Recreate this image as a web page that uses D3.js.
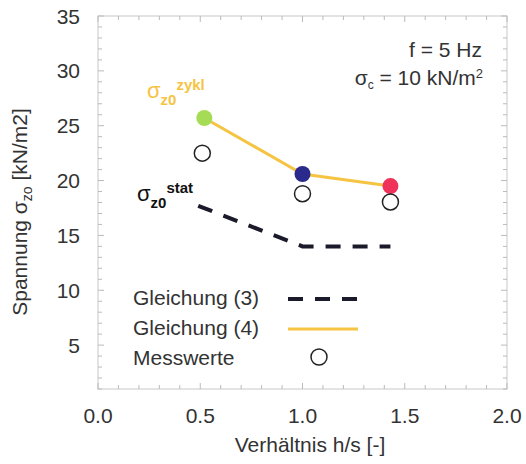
<!DOCTYPE html>
<html lang="de">
<head>
    <meta charset="UTF-8">
    <title>Spannung</title>
    <script src="https://d3js.org/d3.v7.min.js"></script>
    <style>
        body { margin: 0; background: #fff; }
        text { font-family: "Liberation Sans", Arial, sans-serif; fill: #333; }
    </style>
</head>
<body>
<svg width="526" height="464"></svg>
<script>
    // data
    const zyklX = [0.52, 1.0, 1.43];
    const zyklY = [25.7, 20.6, 19.5];
    const zyklColors = ["#a6dc55", "#2a2a8c", "#f0325a"];
    const statX = [0.49, 1.0, 1.43];
    const statY = [17.7, 14.0, 14.0];
    const messX = [0.51, 1.0, 1.43];
    const messY = [22.5, 18.8, 18.05];
    const xTicks = [0.0, 0.5, 1.0, 1.5, 2.0];
    const yTicks = [5, 10, 15, 20, 25, 30, 35];

    const yellow = "#f6c443";
    const svg = d3.select("svg");
    const mLeft = 98, mRight = 507, mTop = 16, mBottom = 389;

    const x = d3.scaleLinear().domain([0, 2]).range([mLeft, mRight]);
    const y = d3.scaleLinear().domain([1, 35]).range([mBottom, mTop]);

    // frame
    svg.append("rect")
        .attr("x", mLeft).attr("y", mTop)
        .attr("width", mRight - mLeft).attr("height", mBottom - mTop)
        .attr("fill", "none").attr("stroke", "#c8c8c8").attr("stroke-width", 1);

    // inner ticks on all four sides
    const tickCol = "#bbb";
    d3.range(0, 2.0001, 0.1).forEach((v, i) => {
        const len = i % 5 === 0 ? 6 : 4;
        svg.append("line").attr("x1", x(v)).attr("x2", x(v)).attr("y1", mBottom).attr("y2", mBottom - len).attr("stroke", tickCol);
        svg.append("line").attr("x1", x(v)).attr("x2", x(v)).attr("y1", mTop).attr("y2", mTop + len).attr("stroke", tickCol);
    });
    d3.range(1, 35.0001, 1).forEach(v => {
        const len = v % 5 === 0 ? 6 : 4;
        svg.append("line").attr("x1", mLeft).attr("x2", mLeft + len).attr("y1", y(v)).attr("y2", y(v)).attr("stroke", tickCol);
        svg.append("line").attr("x1", mRight).attr("x2", mRight - len).attr("y1", y(v)).attr("y2", y(v)).attr("stroke", tickCol);
    });

    // tick labels
    svg.selectAll(".xt").data(xTicks).enter().append("text")
        .attr("x", d => x(d)).attr("y", 423)
        .attr("text-anchor", "middle").style("font-size", "21px")
        .text(d => d.toFixed(1));
    svg.selectAll(".yt").data(yTicks).enter().append("text")
        .attr("x", 80).attr("y", d => y(d) + 7.5)
        .attr("text-anchor", "end").style("font-size", "21px")
        .text(d => d);

    // axis titles
    svg.append("text")
        .attr("x", 310).attr("y", 452)
        .attr("text-anchor", "middle").style("font-size", "21px")
        .text("Verhältnis h/s [-]");
    const yl = svg.append("text")
        .attr("transform", "translate(27,212) rotate(-90)")
        .attr("text-anchor", "middle").style("font-size", "21px");
    yl.append("tspan").text("Spannung σ");
    yl.append("tspan").attr("dy", 5).style("font-size", "14px").text("zo");
    yl.append("tspan").attr("dy", -5).text(" [kN/m2]");

    // Gleichung (3): static
    const line = d3.line().x(d => x(d[0])).y(d => y(d[1]));
    svg.append("path")
        .datum(statX.map((v, i) => [v, statY[i]]))
        .attr("d", line)
        .attr("fill", "none").attr("stroke", "#1a1a2a")
        .attr("stroke-width", 4).attr("stroke-dasharray", "15,12");

    // Gleichung (4): cyclic
    svg.append("path")
        .datum(zyklX.map((v, i) => [v, zyklY[i]]))
        .attr("d", line)
        .attr("fill", "none").attr("stroke", yellow).attr("stroke-width", 3);

    svg.selectAll(".zp").data(zyklX).enter().append("circle")
        .attr("cx", d => x(d)).attr("cy", (d, i) => y(zyklY[i]))
        .attr("r", 8).attr("fill", (d, i) => zyklColors[i]);

    // Messwerte
    svg.selectAll(".mp").data(messX).enter().append("circle")
        .attr("cx", d => x(d)).attr("cy", (d, i) => y(messY[i]))
        .attr("r", 8).attr("fill", "none").attr("stroke", "#222").attr("stroke-width", 1.5);

    // curve labels
    const zl = svg.append("text").attr("x", 147).attr("y", 98)
        .style("font-size", "22px").style("fill", yellow);
    zl.append("tspan").text("σ");
    zl.append("tspan").attr("dy", 7).style("font-size", "15px").style("font-weight", "bold").text("z0");
    zl.append("tspan").attr("dy", -15).style("font-size", "15px").style("font-weight", "bold").text("zykl");

    const sl = svg.append("text").attr("x", 137).attr("y", 201)
        .style("font-size", "22px").style("fill", "#111");
    sl.append("tspan").text("σ");
    sl.append("tspan").attr("dy", 7).style("font-size", "15px").style("font-weight", "bold").text("z0");
    sl.append("tspan").attr("dy", -15).style("font-size", "15px").style("font-weight", "bold").text("stat");

    // parameters
    svg.append("text").attr("x", 482).attr("y", 57)
        .attr("text-anchor", "end").style("font-size", "21px").text("f = 5 Hz");
    const pc = svg.append("text").attr("x", 483).attr("y", 85)
        .attr("text-anchor", "end").style("font-size", "21px");
    pc.append("tspan").text("σ");
    pc.append("tspan").attr("dy", 4).style("font-size", "12px").text("c");
    pc.append("tspan").attr("dy", -4).text(" = 10 kN/m");
    pc.append("tspan").attr("dy", -7).style("font-size", "13px").text("2");

    // legend
    const legend = ["Gleichung (3)", "Gleichung (4)", "Messwerte"];
    svg.selectAll(".lg").data(legend).enter().append("text")
        .attr("x", 133).attr("y", (d, i) => 305 + i * 30)
        .style("font-size", "21px").text(d => d);
    svg.append("line").attr("x1", 288).attr("x2", 358).attr("y1", 299).attr("y2", 299)
        .attr("stroke", "#1a1a2a").attr("stroke-width", 4).attr("stroke-dasharray", "15,12");
    svg.append("line").attr("x1", 288).attr("x2", 358).attr("y1", 329).attr("y2", 329)
        .attr("stroke", yellow).attr("stroke-width", 3);
    svg.append("circle").attr("cx", 319).attr("cy", 357).attr("r", 8)
        .attr("fill", "none").attr("stroke", "#222").attr("stroke-width", 1.5);
</script>
</body>
</html>
